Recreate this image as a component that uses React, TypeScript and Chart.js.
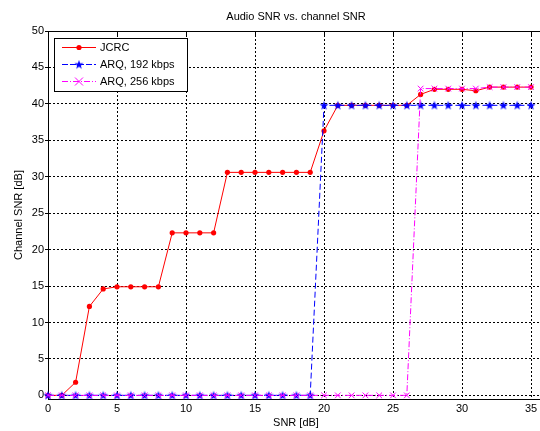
import React, { useEffect, useRef } from "react";
import { Chart, registerables } from "chart.js";

Chart.register(...registerables);

const snr = [0, 1, 2, 3, 4, 5, 6, 7, 8, 9, 10, 11, 12, 13, 14, 15, 16, 17, 18, 19, 20, 21, 22, 23, 24, 25, 26, 27, 28, 29, 30, 31, 32, 33, 34, 35];
const jcrc = [0, 0, 1.8, 12.2, 14.6, 14.9, 14.9, 14.9, 14.9, 22.3, 22.3, 22.3, 22.3, 30.6, 30.6, 30.6, 30.6, 30.6, 30.6, 30.6, 36.3, 39.8, 39.8, 39.8, 39.8, 39.8, 39.8, 41.3, 42.0, 42.0, 42.0, 41.8, 42.3, 42.3, 42.3, 42.3];
const arq192 = [0, 0, 0, 0, 0, 0, 0, 0, 0, 0, 0, 0, 0, 0, 0, 0, 0, 0, 0, 0, 39.8, 39.8, 39.8, 39.8, 39.8, 39.8, 39.8, 39.8, 39.8, 39.8, 39.8, 39.8, 39.8, 39.8, 39.8, 39.8];
const arq256 = [0, 0, 0, 0, 0, 0, 0, 0, 0, 0, 0, 0, 0, 0, 0, 0, 0, 0, 0, 0, 0, 0, 0, 0, 0, 0, 0, 42.1, 42.1, 42.1, 42.1, 42.1, 42.3, 42.3, 42.3, 42.3];
const xTicks = [0, 5, 10, 15, 20, 25, 30, 35];
const yTicks = [0, 5, 10, 15, 20, 25, 30, 35, 40, 45, 50];
const seriesNames = ["JCRC", "ARQ, 192 kbps", "ARQ, 256 kbps"];

const FONT = "'Liberation Sans', Arial, Helvetica, sans-serif";

function makeStar(color: string): HTMLCanvasElement {
  const c = document.createElement("canvas");
  c.width = 10;
  c.height = 10;
  const ctx = c.getContext("2d")!;
  const cx = 5, cy = 5.3, ro = 4.8, ri = 1.9;
  ctx.beginPath();
  for (let i = 0; i < 10; i++) {
    const r = i % 2 === 0 ? ro : ri;
    const a = -Math.PI / 2 + (i * Math.PI) / 5;
    const px = cx + r * Math.cos(a);
    const py = cy + r * Math.sin(a);
    if (i === 0) ctx.moveTo(px, py);
    else ctx.lineTo(px, py);
  }
  ctx.closePath();
  ctx.fillStyle = color;
  ctx.fill();
  return c;
}

export default function App() {
  const ref = useRef<HTMLCanvasElement | null>(null);

  useEffect(() => {
    const canvas = ref.current;
    if (!canvas) return;
    const star = makeStar("#0000ff");

    const frame = {
      id: "frame",
      afterDatasetsDraw(chart: any) {
        const { ctx, chartArea } = chart;
        const xs = chart.scales.x;
        ctx.save();
        ctx.strokeStyle = "#000";
        ctx.lineWidth = 1;
        ctx.setLineDash([]);
        const top = Math.round(chartArea.top) + 0.5;
        ctx.beginPath();
        ctx.moveTo(chartArea.left, top);
        ctx.lineTo(chart.width, top);
        ctx.stroke();
        for (const v of xTicks) {
          const px = Math.round(xs.getPixelForValue(v)) + 0.5;
          ctx.beginPath();
          ctx.moveTo(px, top);
          ctx.lineTo(px, top + 4);
          ctx.stroke();
        }
        ctx.restore();
      },
    };

    const legend = {
      id: "customLegend",
      afterDraw(chart: any) {
        const { ctx } = chart;
        ctx.save();
        const bx = 54.5, by = 38.5, bw = 133, bh = 53;
        ctx.fillStyle = "#fff";
        ctx.fillRect(bx, by, bw, bh);
        ctx.strokeStyle = "#000";
        ctx.lineWidth = 1;
        ctx.setLineDash([]);
        ctx.strokeRect(bx, by, bw, bh);
        const rows = [47, 64, 81];
        const colors = ["#ff0000", "#0000ff", "#ff00ff"];
        const dashes = [[], [6, 2], [6, 2, 1, 2]];
        for (let i = 0; i < 3; i++) {
          const y = rows[i] + 0.5;
          ctx.strokeStyle = colors[i];
          ctx.lineWidth = 1;
          ctx.setLineDash(dashes[i]);
          ctx.beginPath();
          ctx.moveTo(62, y);
          ctx.lineTo(96, y);
          ctx.stroke();
          ctx.setLineDash([]);
          const mx = 79;
          if (i === 0) {
            ctx.fillStyle = colors[0];
            ctx.beginPath();
            ctx.arc(mx, y, 2.6, 0, Math.PI * 2);
            ctx.fill();
          } else if (i === 1) {
            ctx.drawImage(star, mx - 5, y - 5);
          } else {
            ctx.strokeStyle = colors[2];
            ctx.beginPath();
            ctx.moveTo(mx - 4, y - 4);
            ctx.lineTo(mx + 4, y + 4);
            ctx.moveTo(mx + 4, y - 4);
            ctx.lineTo(mx - 4, y + 4);
            ctx.stroke();
          }
          ctx.fillStyle = "#000";
          ctx.font = `11px ${FONT}`;
          ctx.textBaseline = "middle";
          ctx.textAlign = "left";
          ctx.fillText(seriesNames[i], 100, y);
        }
        ctx.restore();
      },
    };

    const gridCommon = {
      color: "#000",
      lineWidth: 1,
      tickColor: "#000",
    };

    const chart = new Chart(canvas, {
      type: "line",
      data: {
        labels: snr,
        datasets: [
          {
            label: seriesNames[0],
            data: snr.map((x, i) => ({ x, y: jcrc[i] })),
            borderColor: "#ff0000",
            backgroundColor: "#ff0000",
            borderWidth: 1,
            pointStyle: "circle",
            pointRadius: 2.6,
            pointBorderWidth: 0,
            pointBackgroundColor: "#ff0000",
            tension: 0,
            clip: false,
            order: 3,
          } as any,
          {
            label: seriesNames[1],
            data: snr.map((x, i) => ({ x, y: arq192[i] })),
            borderColor: "#0000ff",
            backgroundColor: "#0000ff",
            borderWidth: 1,
            borderDash: [6, 3],
            pointStyle: star,
            pointRadius: 5,
            tension: 0,
            clip: false,
            order: 2,
          } as any,
          {
            label: seriesNames[2],
            data: snr.map((x, i) => ({ x, y: arq256[i] })),
            borderColor: "#ff00ff",
            backgroundColor: "#ff00ff",
            borderWidth: 1,
            borderDash: [6, 2, 1, 2],
            pointStyle: "crossRot",
            pointRadius: 4,
            pointBorderWidth: 1,
            pointBorderColor: "#ff00ff",
            tension: 0,
            clip: false,
            order: 1,
          } as any,
        ],
      },
      options: {
        animation: false,
        responsive: false,
        maintainAspectRatio: false,
        events: [],
        layout: { padding: 0, autoPadding: false },
        plugins: {
          legend: { display: false },
          tooltip: { enabled: false },
          title: {
            display: true,
            text: "Audio SNR vs. channel SNR",
            color: "#000",
            font: { family: FONT, size: 11, weight: "normal" },
            padding: { top: 10.5, bottom: 7.3 },
            fullSize: false,
          },
        },
        scales: {
          x: {
            type: "linear",
            min: 0,
            max: 35.94,
            afterBuildTicks: (s: any) => {
              s.ticks = xTicks.map((v) => ({ value: v }));
            },
            afterFit: (s: any) => {
              s.height = 32;
              s.paddingRight = 0;
              s.paddingLeft = 0;
            },
            grid: { ...gridCommon, drawTicks: false, tickLength: 0 },
            border: { display: true, color: "#000", width: 1, dash: [2, 2] },
            ticks: {
              color: "#000",
              font: { family: FONT, size: 11 },
              padding: 3,
              maxRotation: 0,
              autoSkip: false,
            },
            title: {
              display: true,
              text: "SNR [dB]",
              color: "#000",
              font: { family: FONT, size: 11 },
              padding: { top: 0, bottom: 1.5 },
            },
          },
          y: {
            type: "linear",
            min: -0.5,
            max: 50,
            afterBuildTicks: (s: any) => {
              s.ticks = yTicks.map((v) => ({ value: v }));
            },
            afterFit: (s: any) => {
              s.width = 48;
              s.paddingTop = 0;
              s.paddingBottom = 0;
            },
            grid: { ...gridCommon, drawTicks: true, tickLength: 3 },
            border: { display: true, color: "#000", width: 1, dash: [2, 2] },
            ticks: {
              color: "#000",
              font: { family: FONT, size: 11 },
              padding: 1,
              autoSkip: false,
            },
            title: {
              display: true,
              text: "Channel SNR [dB]",
              color: "#000",
              font: { family: FONT, size: 11 },
              padding: { top: 12, bottom: 0 },
            },
          },
        },
      } as any,
      plugins: [frame, legend],
    });

    return () => chart.destroy();
  }, []);

  return (
    <div style={{ position: "fixed", left: 0, top: 0, width: 540, height: 431, overflow: "hidden", background: "#fff" }}>
      <canvas ref={ref} width={544} height={431} style={{ display: "block", width: 544, height: 431 }} />
    </div>
  );
}
